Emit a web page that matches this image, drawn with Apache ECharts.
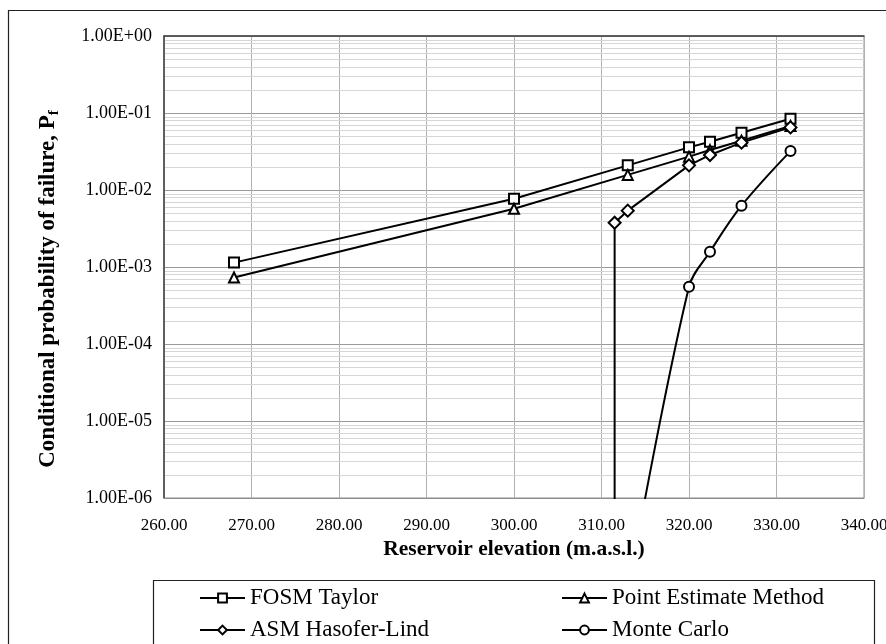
<!DOCTYPE html>
<html>
<head>
<meta charset="utf-8">
<script src="https://cdn.jsdelivr.net/npm/echarts@6/dist/echarts.min.js"></script>
<style>
  html, body { margin: 0; padding: 0; background: #fff; }
  #chart { width: 886px; height: 644px; }
</style>
</head>
<body>
<div id="chart"></div>
<script>
// 数据：水库高程 (m.a.s.l.) 与失效概率
const fosmTaylor = [[268, 1.14e-3], [300, 7.7e-3], [313, 2.09e-2], [320, 3.58e-2], [322.4, 4.24e-2], [326, 5.55e-2], [331.6, 8.43e-2]];
const pointEstimate = [[268, 7.3e-4], [300, 5.7e-3], [313, 1.57e-2], [320, 2.71e-2], [322.4, 3.3e-2], [326, 4.37e-2], [331.6, 6.78e-2]];
const asmHasofer = [[311.5, 1e-10], [311.5, 3.76e-3], [313, 5.39e-3], [320, 2.09e-2], [322.4, 2.85e-2], [326, 4.12e-2], [331.6, 6.5e-2]];
const monteCarlo = [[313, 6e-8], [320, 5.55e-4], [322.4, 1.58e-3], [326, 6.25e-3], [331.6, 3.2e-2]];

const seriesNames = ['FOSM Taylor', 'Point Estimate Method', 'ASM Hasofer-Lind', 'Monte Carlo'];
const xMin = 260, xMax = 340, xStep = 10;
const yMin = 1e-6, yMax = 1;

// 次网格线 (2..9 × 10^k)
const minorGrid = [];
for (let e = -6; e < 0; e++) {
  for (let k = 2; k <= 9; k++) minorGrid.push(k * Math.pow(10, e));
}

const FONT = "'Liberation Serif', 'Times New Roman', serif";

function expLabel(v) {
  const e = Math.round(Math.log10(v));
  return '1.00E' + (e < 0 ? '-' : '+') + String(Math.abs(e)).padStart(2, '0');
}

const chart = echarts.init(document.getElementById('chart'));

function lineSeries(name, data, symbol, size, extra) {
  return Object.assign({
    name: name,
    type: 'line',
    data: data,
    symbol: symbol,
    symbolSize: size,
    clip: true,
    z: 5,
    lineStyle: { color: '#000', width: 2 },
    itemStyle: { color: '#000', borderColor: '#000', borderWidth: 1.5 }
  }, extra || {});
}

// 图例：每项单独放置（两列两行）
function legendItem(name, left, top) {
  return {
    data: [name],
    left: left, top: top,
    padding: 0,
    itemWidth: 45, itemHeight: 11,
    textStyle: { fontFamily: FONT, fontSize: 23, color: '#000', lineHeight: 24 }
  };
}

const option = {
  animation: false,
  backgroundColor: '#fff',
  textStyle: { fontFamily: FONT },
  grid: {
    left: 164, top: 36, right: 22, bottom: 146,
    outerBoundsMode: 'none',
    containLabel: false,
    show: true, borderColor: '#8c8c8c', borderWidth: 1
  },
  xAxis: [{
    type: 'value',
    min: xMin, max: xMax, interval: xStep,
    name: 'Reservoir elevation (m.a.s.l.)',
    nameLocation: 'middle',
    nameGap: 37,
    nameTextStyle: { fontFamily: FONT, fontSize: 21.5, fontWeight: 'bold', color: '#000' },
    axisLine: { show: true, lineStyle: { color: '#8c8c8c', width: 1 } },
    axisTick: { show: false },
    axisLabel: { fontFamily: FONT, fontSize: 17, color: '#000', margin: 19, formatter: v => v.toFixed(2) },
    splitLine: { show: true, lineStyle: { color: '#b0b0b0', width: 1 } }
  }, {
    type: 'value', position: 'top',
    min: xMin, max: xMax, interval: xStep,
    axisLine: { show: true, lineStyle: { color: '#404040', width: 1.5 } },
    axisTick: { show: false }, axisLabel: { show: false }, splitLine: { show: false }
  }],
  yAxis: {
    type: 'log',
    logBase: 10,
    min: yMin, max: yMax,
    name: '{t|Conditional probability of failure, P}{s|f}',
    nameLocation: 'middle',
    nameRotate: 90,
    nameGap: 102,
    nameTextStyle: {
      padding: [0, 44, 0, 0],
      rich: {
        t: { fontFamily: FONT, fontSize: 23, fontWeight: 'bold', color: '#000', lineHeight: 28 },
        s: { fontFamily: FONT, fontSize: 15, fontWeight: 'bold', color: '#000', lineHeight: 16, verticalAlign: 'bottom' }
      }
    },
    axisLine: { show: true, lineStyle: { color: '#404040', width: 1.5 } },
    axisTick: { show: false },
    axisLabel: { fontFamily: FONT, fontSize: 18, color: '#000', margin: 12, formatter: expLabel },
    splitLine: { show: true, lineStyle: { color: '#9a9a9a', width: 1 } }
  },
  legend: [
    legendItem(seriesNames[0], 199, 586),
    legendItem(seriesNames[2], 199, 618),
    legendItem(seriesNames[1], 561, 586),
    legendItem(seriesNames[3], 561, 618)
  ],
  graphic: [{
    type: 'rect',
    shape: { x: 8.5, y: 10.5, width: 900, height: 700 },
    style: { fill: 'none', stroke: '#222', lineWidth: 1.2 },
    silent: true, z: -10
  }, {
    type: 'rect',
    shape: { x: 153.5, y: 580.5, width: 721, height: 100 },
    style: { fill: 'none', stroke: '#222', lineWidth: 1.2 },
    silent: true
  }],
  series: [
    {
      name: '_minor',
      type: 'custom',
      data: minorGrid.map(v => [xMin, v]),
      encode: { x: 0, y: 1 },
      z: 1,
      silent: true,
      renderItem: function (params, api) {
        const v = api.value(1);
        const p1 = api.coord([xMin, v]);
        const p2 = api.coord([xMax, v]);
        const y = Math.round(p1[1]) + 0.5;
        return {
          type: 'line',
          shape: { x1: p1[0] + 1, y1: y, x2: p2[0], y2: y },
          style: { stroke: '#d6d6d6', lineWidth: 1 }
        };
      }
    },
    lineSeries(seriesNames[0], fosmTaylor, 'emptyRect', 10),
    lineSeries(seriesNames[1], pointEstimate, 'emptyTriangle', 10),
    lineSeries(seriesNames[2], asmHasofer, 'emptyDiamond', 12),
    lineSeries(seriesNames[3], monteCarlo, 'emptyCircle', 10, { smooth: 0.35 })
  ]
};

chart.setOption(option);
</script>
</body>
</html>
